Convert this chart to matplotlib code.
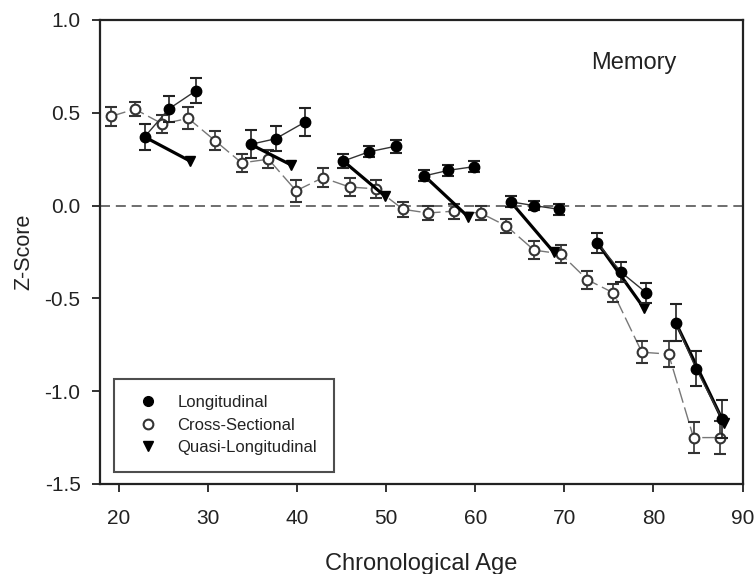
import matplotlib
matplotlib.use("Agg")
import matplotlib.pyplot as plt
from matplotlib.lines import Line2D

plt.rcParams["font.family"] = ["Liberation Sans", "DejaVu Sans"]

# cross-sectional means by age group
cs_age = [19.1, 21.8, 24.9, 27.8, 30.8, 33.8, 36.8, 39.9, 42.9, 45.9, 48.9, 51.9,
          54.7, 57.6, 60.6, 63.5, 66.6, 69.6, 72.6, 75.5, 78.7, 81.7, 84.5, 87.5]
cs_z = [0.48, 0.52, 0.44, 0.47, 0.35, 0.23, 0.25, 0.08, 0.15, 0.10, 0.09, -0.02,
        -0.04, -0.03, -0.04, -0.11, -0.24, -0.26, -0.40, -0.47, -0.79, -0.80, -1.25, -1.25]
cs_err = [0.05, 0.04, 0.05, 0.06, 0.05, 0.05, 0.05, 0.06, 0.05, 0.05, 0.05, 0.04,
          0.04, 0.04, 0.04, 0.04, 0.05, 0.05, 0.05, 0.05, 0.06, 0.07, 0.085, 0.09]

# longitudinal segments (three occasions each)
long_age = [[22.9, 25.6, 28.7], [34.8, 37.6, 40.9], [45.2, 48.1, 51.1], [54.3, 57.0, 59.9],
            [64.0, 66.6, 69.4], [73.7, 76.4, 79.2], [82.5, 84.8, 87.7]]
long_z = [[0.37, 0.52, 0.62], [0.33, 0.36, 0.45], [0.24, 0.29, 0.32], [0.16, 0.19, 0.21],
          [0.02, 0.00, -0.02], [-0.20, -0.36, -0.47], [-0.63, -0.88, -1.15]]
long_err = [[0.07, 0.07, 0.07], [0.075, 0.067, 0.075], [0.04, 0.03, 0.036], [0.03, 0.03, 0.03],
            [0.03, 0.025, 0.03], [0.054, 0.054, 0.054], [0.10, 0.094, 0.10]]

# quasi-longitudinal end points (each starts at the first longitudinal point)
quasi_age = [28.0, 39.3, 49.9, 59.2, 68.8, 78.9, 87.9]
quasi_z = [0.24, 0.22, 0.05, -0.06, -0.25, -0.55, -1.17]

ink = "#222222"

fig = plt.figure(figsize=(7.55, 5.74), dpi=100)
ax = fig.add_axes([0.1325, 0.1568, 0.8510, 0.8084])

ax.axhline(0, color="#555555", lw=1.2, dashes=(6, 3.5), zorder=1)

ax.plot(cs_age, cs_z, color="#777777", lw=1.0, dashes=(11, 3.5), zorder=2)
ax.errorbar(cs_age, cs_z, yerr=cs_err, fmt="o", ms=7, mfc="white", mec="#333333",
            mew=1.5, ecolor="#333333", elinewidth=1.2, capsize=4.5, capthick=1.5, zorder=3)

for xs, ys, es, qx, qy in zip(long_age, long_z, long_err, quasi_age, quasi_z):
    ax.plot([xs[0], qx], [ys[0], qy], color="black", lw=2.3, zorder=4)
    ax.plot([qx], [qy], marker="v", ms=7.5, color="black", ls="none", zorder=4)
    ax.plot(xs, ys, color="#333333", lw=1.0, zorder=5)
    ax.errorbar(xs, ys, yerr=es, fmt="o", ms=7.5, mfc="black", mec="black",
                ecolor=ink, elinewidth=1.2, capsize=4.5, capthick=1.5, zorder=6)

ax.set_xlim(17.9, 90)
ax.set_ylim(-1.5, 1.0)
ax.set_xticks(range(20, 91, 10))
ax.set_yticks([-1.5, -1.0, -0.5, 0.0, 0.5, 1.0])
ax.set_yticklabels(["-1.5", "-1.0", "-0.5", "0.0", "0.5", "1.0"])
ax.tick_params(direction="out", length=6, width=1.3, labelsize=15, colors=ink)
ax.tick_params(axis="x", pad=12)
ax.tick_params(axis="y", pad=8)
for sp in ax.spines.values():
    sp.set_linewidth(1.6)
    sp.set_color(ink)

ax.set_xlabel("Chronological Age", fontsize=17, color=ink, labelpad=18)
ax.set_ylabel("Z-Score", fontsize=15.5, color=ink, labelpad=7)
ax.text(77.8, 0.77, "Memory", fontsize=17, ha="center", va="center", color=ink)

handles = [
    Line2D([], [], marker="o", ls="none", ms=7, color="black"),
    Line2D([], [], marker="o", ls="none", ms=7, mfc="white", mec="#333333", mew=1.5),
    Line2D([], [], marker="v", ls="none", ms=7, color="black"),
]
leg = ax.legend(handles, ["Longitudinal", "Cross-Sectional", "Quasi-Longitudinal"],
                loc="lower left", bbox_to_anchor=(0.022, 0.026), borderaxespad=0,
                fontsize=12, frameon=True, fancybox=False, handlelength=2.0,
                handletextpad=0.8, labelspacing=0.45, borderpad=1.0)
leg.get_frame().set_edgecolor(ink)
leg.get_frame().set_linewidth(1.5)
for t in leg.get_texts():
    t.set_color(ink)

fig.savefig("out.png", dpi=100)
